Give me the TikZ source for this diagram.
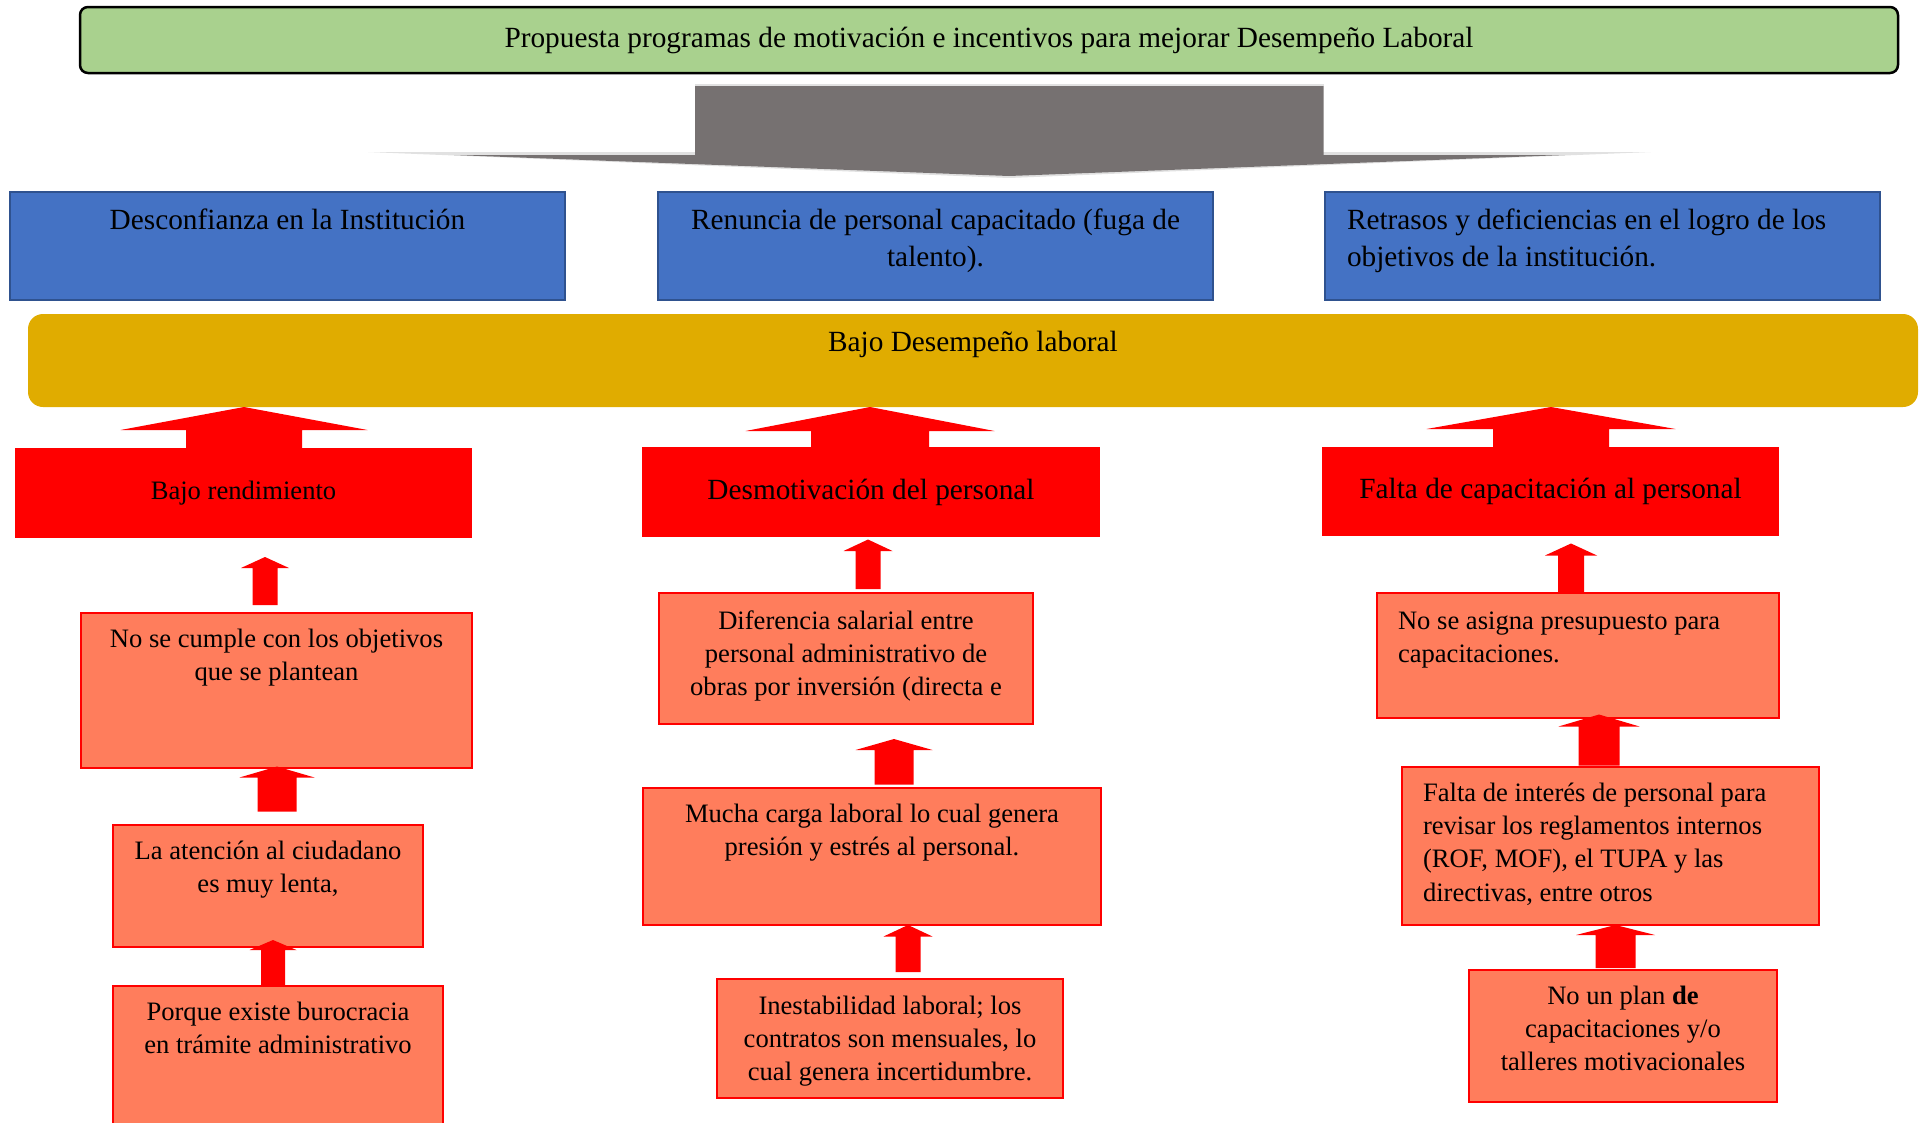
\documentclass[tikz,border=0pt]{standalone}
\usepackage{fontspec}
\setmainfont{Liberation Serif}
\usepackage{xcolor}
\usetikzlibrary{calc}

\definecolor{verde}{RGB}{169,209,142}
\definecolor{azul}{RGB}{68,114,196}
\definecolor{azulborde}{RGB}{47,82,143}
\definecolor{oro}{RGB}{224,172,0}
\definecolor{salmon}{RGB}{255,125,92}
\definecolor{gris}{RGB}{118,113,113}
\definecolor{grisclaro}{RGB}{225,225,225}

% lower node, upper node, x, bottom shift, tip shift, shaft half, wing half, head
\newcommand\flecha[8]{%
 \fill[red] let \p1=(#1.north), \p2=(#2.south) in
  ({#3-#6},{\y1+(#4)}) -- ({#3-#6},{\y2+(#5)-(#8)}) -- ({#3-#7},{\y2+(#5)-(#8)})
  -- ({#3},{\y2+(#5)}) -- ({#3+#7},{\y2+(#5)-(#8)}) -- ({#3+#6},{\y2+(#5)-(#8)})
  -- ({#3+#6},{\y1+(#4)}) -- cycle;}

\begin{document}
\begin{tikzpicture}[x=1pt, y=-1pt,
  caja/.style={anchor=north west, inner xsep=10pt, inner ysep=11pt, outer sep=0pt},
  grande/.style={font=\fontsize{29.3}{36.7}\selectfont},
  chica/.style={font=\fontsize{26.6}{33.3}\selectfont},
  titulo/.style={caja, grande, fill=verde, draw=black, line width=2.5pt, rounded corners=8pt},
  azulbox/.style={caja, grande, fill=azul, draw=azulborde, line width=2.5pt},
  orobox/.style={caja, grande, fill=oro, rounded corners=15pt, inner ysep=12pt},
  rojobox/.style={caja, grande, fill=red},
  salmonbox/.style={caja, chica, fill=salmon, draw=red, line width=2.5pt}]
 \useasboundingbox (0,0) rectangle (1925,1122);

 \node[titulo, minimum width=1818pt, minimum height=66pt] (propuesta) at (80,7)
  {Propuesta programas de motivación e incentivos para mejorar Desempeño Laboral};

 \fill[grisclaro] (368,152) -- (1651,152) -- (1009,178) -- cycle;
 \fill[gris] (695,85) -- (1323.5,85) -- (1323.5,155) -- (1565,155) -- (1009,176)
  -- (454,155) -- (695,155) -- cycle;
 \draw[grisclaro, line width=2pt] (695,85) -- (1323.5,85);

 \node[azulbox, inner ysep=12pt] (desconfianza) at (10,192)
  {\parbox[t][84pt][t]{535pt}{\centering\strut Desconfianza en la Institución}};
 \node[azulbox, inner ysep=12pt] (renuncia) at (658,192)
  {\parbox[t][84pt][t]{535pt}{\centering\strut Renuncia de personal capacitado (fuga de\\ talento).}};
 \node[azulbox, inner xsep=22pt, inner ysep=12pt] (retrasos) at (1325,192)
  {\parbox[t][84pt][t]{511pt}{\raggedright\strut Retrasos y deficiencias en el logro de los\\ objetivos de la institución.}};

 \node[orobox] (bajo) at (28,314)
  {\parbox[t][69pt][t]{1870pt}{\centering\strut Bajo Desempeño laboral}};

 \node[rojobox, chica, minimum width=457pt, minimum height=90pt] (rendimiento) at (15,448) {Bajo rendimiento};
 \node[rojobox, minimum width=458pt, minimum height=90pt] (desmotivacion) at (642,447) {Desmotivación del personal};
 \node[rojobox, minimum width=457pt, minimum height=89pt] (capacitacion) at (1322,447) {Falta de capacitación al personal};

 \node[salmonbox] (cumple) at (81,613)
  {\parbox[t][133pt][t]{371pt}{\centering\strut No se cumple con los objetivos\\ que se plantean}};
 \node[salmonbox] (atencion) at (113,825)
  {\parbox[t][100pt][t]{290pt}{\centering\strut La atención al ciudadano\\ es muy lenta,}};
 \node[salmonbox] (porque) at (113,986)
  {\parbox[t][160pt][t]{310pt}{\centering\strut Porque existe burocracia\\ en trámite administrativo}};

 \node[salmonbox, inner ysep=13pt] (diferencia) at (659,593)
  {\parbox[t][105pt][t]{354pt}{\centering\strut Diferencia salarial entre\\ personal administrativo de\\ obras por inversión (directa e}};
 \node[salmonbox] (carga) at (643,788)
  {\parbox[t][115pt][t]{438pt}{\centering\strut Mucha carga laboral lo cual genera\\ presión y estrés al personal.}};
 \node[salmonbox, inner ysep=12pt] (inestabilidad) at (717,979)
  {\parbox[t][95pt][t]{326pt}{\centering\strut Inestabilidad laboral; los\\ contratos son mensuales, lo\\ cual genera incertidumbre.}};

 \node[salmonbox, inner xsep=21pt, inner ysep=13pt] (presupuesto) at (1377,593)
  {\parbox[t][99pt][t]{360pt}{\raggedright\strut No se asigna presupuesto para\\ capacitaciones.}};
 \node[salmonbox, inner xsep=21pt] (interes) at (1402,767)
  {\parbox[t][136pt][t]{375pt}{\raggedright\strut Falta de interés de personal para\\ revisar los reglamentos internos\\ (ROF, MOF), el TUPA y las\\ directivas, entre otros}};
 \node[salmonbox] (plan) at (1469,970)
  {\parbox[t][110pt][t]{288pt}{\centering\strut No un plan \textbf{de}\\ capacitaciones y/o\\ talleres motivacionales}};

 \flecha{rendimiento}{bajo}{244}{0}{0}{58}{123.5}{23}
 \flecha{desmotivacion}{bajo}{870}{0}{0}{59}{124.5}{24}
 \flecha{capacitacion}{bajo}{1551}{0}{0}{58}{124.5}{22}

 \flecha{cumple}{rendimiento}{265}{8}{-19}{12.5}{24}{11}
 \flecha{atencion}{cumple}{277}{13.5}{1.5}{19.5}{37.5}{11}
 \flecha{porque}{atencion}{273}{0}{7}{12}{23.5}{10}

 \flecha{diferencia}{desmotivacion}{868}{4}{-2.5}{12.5}{24.5}{11.5}
 \flecha{carga}{diferencia}{894}{3.5}{-15}{19.5}{38.5}{11}
 \flecha{inestabilidad}{carga}{908}{7}{0}{12.5}{24.5}{11.5}

 \flecha{presupuesto}{capacitacion}{1571}{0}{-7.5}{13}{26}{12}
 \flecha{interes}{presupuesto}{1599}{1.5}{3.5}{20.5}{40.5}{12}
 \flecha{plan}{interes}{1615.5}{2}{0}{20}{39.5}{10}
\end{tikzpicture}
\end{document}
